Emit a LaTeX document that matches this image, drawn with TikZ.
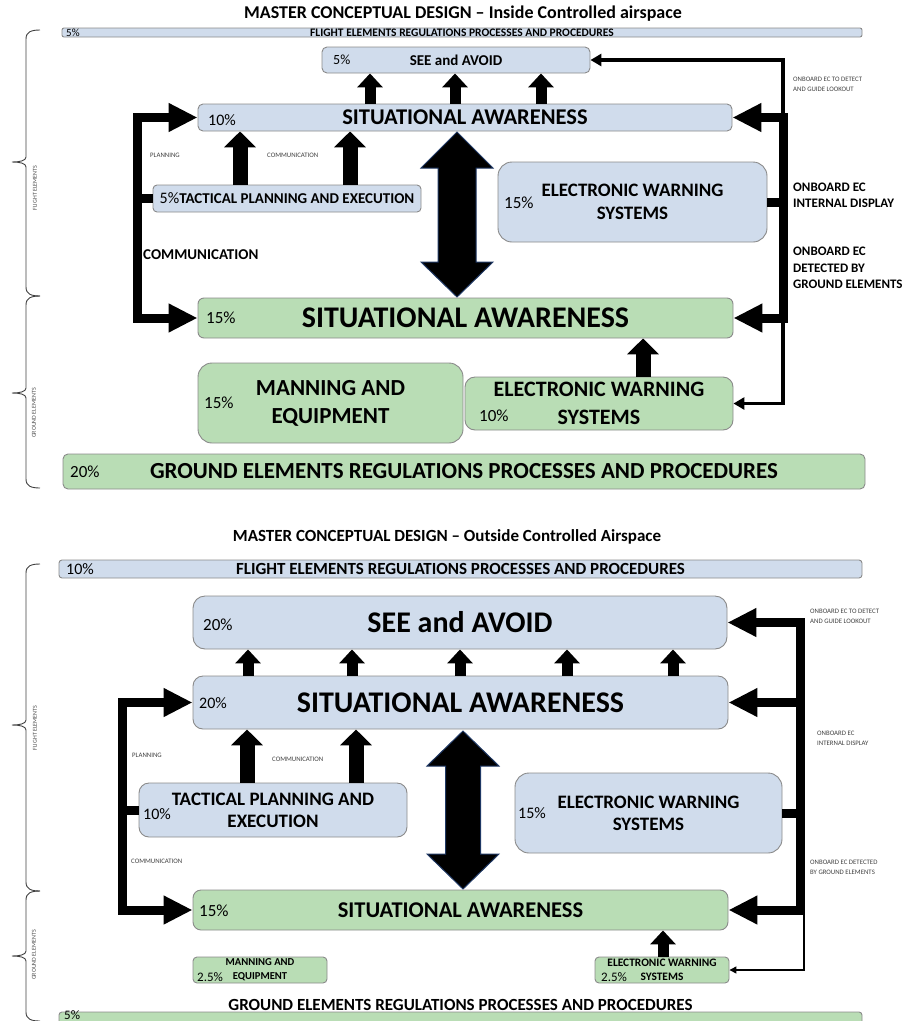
\documentclass[tikz,border=0pt]{standalone}
\usepackage{fontspec}
\setmainfont{Carlito}
\usetikzlibrary{arrows.meta}
\definecolor{fillblue}{HTML}{D0DCEC}
\definecolor{fillgreen}{HTML}{B9DDB5}
\definecolor{edgegray}{HTML}{8A8A8A}
\definecolor{navy}{HTML}{1F3864}
\newcommand{\fsz}[2]{\fontsize{#1pt}{#2pt}\selectfont}
\begin{document}
\begin{tikzpicture}[x=1pt,y=-1pt,
  fb/.style={draw=edgegray,fill=fillblue,line width=0.9pt,inner sep=0pt,align=center,font=\bfseries},
  fg/.style={draw=edgegray,fill=fillgreen,line width=0.9pt,inner sep=0pt,align=center,font=\bfseries},
  pct/.style={anchor=west,inner sep=0pt},
  lbl/.style={anchor=west,inner sep=0pt,align=left},
  tinylbl/.style={anchor=west,inner sep=0pt,align=left,text=black!75,font=\fsz{6.8}{10}},
  fat/.style={line width=9pt,>={Triangle[length=29pt,width=27pt]},->},
  fatboth/.style={line width=9pt,>={Triangle[length=29pt,width=27pt]},<->},
  stub/.style={line width=9pt},
  upsm/.style={line width=11pt,-{Triangle[length=14pt,width=25pt]}},
  upbig/.style={line width=15pt,-{Triangle[length=16pt,width=31pt]}},
  thinarr/.style={line width=3.5pt,-{Triangle[length=11pt,width=12pt]}},
  hair/.style={line width=1.3pt,-{Triangle[length=7pt,width=7pt]}},
  dbl/.style={fill=black,draw=navy,line width=1pt},
  brc/.style={draw=black!75,line width=0.9pt},
  brclbl/.style={rotate=90,inner sep=0pt,text=black!70,font=\fsz{6}{7}}
]
\useasboundingbox (0,0) rectangle (917,1021);

\node[font=\bfseries\fsz{18}{20}] (tt1) at (463,14) {MASTER CONCEPTUAL DESIGN – Inside Controlled airspace};
\node[fb,rounded corners=2pt,minimum width=800pt,minimum height=9pt] (fe1) at (462,32.5) {};
\node[font=\bfseries\fsz{11.5}{12}] (fe1t) at (fe1.center) {FLIGHT ELEMENTS REGULATIONS PROCESSES AND PROCEDURES};
\node[pct,font=\fsz{11}{12}] (fe1p) at (66,32.5) {5\%};
\node[fb,rounded corners=5pt,minimum width=268pt,minimum height=26pt,font=\bfseries\fsz{15}{18}] (see1) at (456,60) {SEE and AVOID};
\node[pct,font=\fsz{14}{16}] (see1p) at (333,60) {5\%};
\node[fb,rounded corners=5pt,minimum width=534pt,minimum height=27pt,font=\bfseries\fsz{22.5}{26}] (sab1) at (465,117.5) {SITUATIONAL AWARENESS};
\node[pct,font=\fsz{16}{18}] (sab1p) at (208,120) {10\%};
\node[fb,rounded corners=4pt,minimum width=268pt,minimum height=27pt,font=\bfseries\fsz{15}{18}] (tac1) at (287,198.5) {{\mdseries\fsz{16}{18}5\%}TACTICAL PLANNING AND EXECUTION};
\node[fb,rounded corners=14pt,minimum width=269pt,minimum height=80pt,font=\bfseries\fsz{19}{23}] (ewsb1) at (632.5,202) {ELECTRONIC WARNING\\SYSTEMS};
\node[pct,font=\fsz{17}{18}] (ewsb1p) at (504,203) {15\%};
\node[fg,rounded corners=6pt,minimum width=535pt,minimum height=40pt,font=\bfseries\fsz{30}{34}] (sag1) at (465.5,318) {SITUATIONAL AWARENESS};
\node[pct,font=\fsz{17}{18}] (sag1p) at (206,318) {15\%};
\node[fg,rounded corners=14pt,minimum width=265pt,minimum height=80pt,font=\bfseries\fsz{23}{28}] (man1) at (330.5,403) {MANNING AND\\EQUIPMENT};
\node[pct,font=\fsz{17}{18}] (man1p) at (204,403) {15\%};
\node[fg,rounded corners=10pt,minimum width=268pt,minimum height=53pt,font=\bfseries\fsz{22}{28}] (ewsg1) at (599,403.5) {ELECTRONIC WARNING\\SYSTEMS};
\node[pct,font=\fsz{17}{18}] (ewsg1p) at (479,416) {10\%};
\node[fg,rounded corners=5pt,minimum width=802pt,minimum height=35pt,font=\bfseries\fsz{23}{26}] (ge1) at (464,471.5) {GROUND ELEMENTS REGULATIONS PROCESSES AND PROCEDURES};
\node[pct,font=\fsz{17}{18}] (ge1p) at (70,472) {20\%};

\coordinate (lb1) at (137,318);
\draw[fatboth] (sab1.west) -| (lb1) -- (sag1.west);
\draw[stub] (tac1.west) -- (tac1.west -| lb1);
\coordinate (rb1) at (783,117.5);
\coordinate (rb1b) at (783,318);
\draw[thinarr] (rb1) |- (see1.east);
\draw[fatboth] (sab1.east) -| (rb1b) -- (sag1.east);
\draw[stub] (ewsb1.east) -- (ewsb1.east -| rb1b);
\draw[thinarr] (rb1b) |- (ewsg1.east);
\foreach \ux [count=\i] in {370,455,541}{
  \coordinate (ua\i) at (\ux,0);
  \draw[upsm] (sab1.north -| ua\i) -- (see1.south -| ua\i);
}
\foreach \ux [count=\i] in {240,350}{
  \coordinate (ub\i) at (\ux,0);
  \draw[upbig] (tac1.north -| ub\i) -- (sab1.south -| ub\i);
}
\coordinate (uc1) at (643,0);
\draw[upbig] (ewsg1.north -| uc1) -- (sag1.south -| uc1);
\coordinate (dt1) at (457,132);
\coordinate (db1) at (457,297);
\draw[dbl] (dt1) -- ++(36,36) -- ++(-17,0) -- ++(0,94) -- ++(17,0) -- (db1) -- ++(-36,-35) -- ++(17,0) -- ++(0,-94) -- ++(-17,0) -- cycle;

\node[tinylbl] (pl1) at (150,155) {PLANNING};
\node[tinylbl] (cm1) at (267,155) {COMMUNICATION};
\node[lbl,font=\bfseries\fsz{15}{18}] (cm1b) at (143,255) {COMMUNICATION};
\node[tinylbl] (ob1) at (793,84) {ONBOARD EC TO DETECT\\AND GUIDE LOOKOUT};
\node[lbl,font=\bfseries\fsz{13}{16}] (ob2) at (793,195) {ONBOARD EC\\INTERNAL DISPLAY};
\node[lbl,font=\bfseries\fsz{13}{16.5}] (ob3) at (793,268) {ONBOARD EC\\DETECTED BY\\GROUND ELEMENTS};

\node[font=\bfseries\fsz{17}{20}] (tt2) at (447,537) {MASTER CONCEPTUAL DESIGN – Outside Controlled Airspace};
\node[fb,rounded corners=3pt,minimum width=803pt,minimum height=18pt] (fe2) at (460.5,569) {};
\node[font=\bfseries\fsz{17}{18}] (fe2t) at (fe2.center) {FLIGHT ELEMENTS REGULATIONS PROCESSES AND PROCEDURES};
\node[pct,font=\fsz{16}{18}] (fe2p) at (66,569) {10\%};
\node[fb,rounded corners=12pt,minimum width=534pt,minimum height=53pt,font=\bfseries\fsz{30}{34}] (see2) at (460,622.5) {SEE and AVOID};
\node[pct,font=\fsz{17}{18}] (see2p) at (203,625) {20\%};
\node[fb,rounded corners=10pt,minimum width=535pt,minimum height=53pt,font=\bfseries\fsz{30}{34}] (sab2) at (460.5,702.5) {SITUATIONAL AWARENESS};
\node[pct,font=\fsz{16}{18}] (sab2p) at (199,703) {20\%};
\node[fb,rounded corners=10pt,minimum width=268pt,minimum height=54pt,font=\bfseries\fsz{19}{22}] (tac2) at (273,810) {TACTICAL PLANNING AND\\EXECUTION};
\node[pct,font=\fsz{16}{18}] (tac2p) at (143,814) {10\%};
\node[fb,rounded corners=14pt,minimum width=267pt,minimum height=80pt,font=\bfseries\fsz{19}{22}] (ewsb2) at (648.5,813) {ELECTRONIC WARNING\\SYSTEMS};
\node[pct,font=\fsz{16}{18}] (ewsb2p) at (518,813) {15\%};
\node[fg,rounded corners=8pt,minimum width=535pt,minimum height=40pt,font=\bfseries\fsz{22.5}{26}] (sag2) at (460.5,910) {SITUATIONAL AWARENESS};
\node[pct,font=\fsz{17}{18}] (sag2p) at (199,911) {15\%};
\node[fg,rounded corners=4pt,minimum width=134pt,minimum height=26pt,font=\bfseries\fsz{10.6}{14}] (man2) at (260,970) {MANNING AND\\EQUIPMENT};
\node[pct,font=\fsz{13}{14}] (man2p) at (197,977) {2.5\%};
\node[fg,rounded corners=4pt,minimum width=134pt,minimum height=26pt,font=\bfseries\fsz{11.4}{14}] (ewsg2) at (662,970) {ELECTRONIC WARNING\\SYSTEMS};
\node[pct,font=\fsz{13}{14}] (ewsg2p) at (601,977) {2.5\%};
\node[fg,rounded corners=3pt,minimum width=803pt,minimum height=22pt] (ge2) at (460.5,1023) {};
\node[font=\bfseries\fsz{17}{20}] (ge2t) at (460.5,1005) {GROUND ELEMENTS REGULATIONS PROCESSES AND PROCEDURES};
\node[pct,font=\fsz{13}{14}] (ge2p) at (64,1015) {5\%};

\coordinate (lb2) at (122,910);
\draw[fatboth] (sab2.west) -| (lb2) -- (sag2.west);
\draw[stub] (tac2.west) -- (tac2.west -| lb2);
\coordinate (rb2) at (800,910);
\draw[fatboth] (see2.east) -| (rb2) -- (sag2.east);
\draw[fat] (sab2.east -| rb2) -- (sab2.east);
\draw[stub] (ewsb2.east) -- (ewsb2.east -| rb2);
\coordinate (rb2t) at (804,910);
\draw[hair] (rb2t) |- (ewsg2.east);
\foreach \ux [count=\i] in {248,352,460,567,673}{
  \coordinate (ud\i) at (\ux,0);
  \draw[upsm] (sab2.north -| ud\i) -- (see2.south -| ud\i);
}
\foreach \ux [count=\i] in {247,356}{
  \coordinate (ue\i) at (\ux,0);
  \draw[upbig] (tac2.north -| ue\i) -- (sab2.south -| ue\i);
}
\coordinate (uf1) at (663,0);
\draw[upsm] (ewsg2.north -| uf1) -- (sag2.south -| uf1);
\coordinate (dt2) at (463,731);
\coordinate (db2) at (463,889);
\draw[dbl] (dt2) -- ++(36,35) -- ++(-18.5,0) -- ++(0,88) -- ++(18.5,0) -- (db2) -- ++(-36,-35) -- ++(18.5,0) -- ++(0,-88) -- ++(-18.5,0) -- cycle;

\node[tinylbl] (pl2) at (132,755) {PLANNING};
\node[tinylbl] (cm2) at (272,759) {COMMUNICATION};
\node[tinylbl] (cm2b) at (131,861) {COMMUNICATION};
\node[tinylbl] (ob4) at (810,616) {ONBOARD EC TO DETECT\\AND GUIDE LOOKOUT};
\node[tinylbl] (ob5) at (817,738) {ONBOARD EC\\INTERNAL DISPLAY};
\node[tinylbl] (ob6) at (810,867) {ONBOARD EC DETECTED\\BY GROUND ELEMENTS};

\foreach \ya/\ym/\yb in {30/162/296,296/393/488,564/725/891,891/956/1021}
  \draw[brc] (40,\ya) .. controls (31,\ya) and (26,\ya+2) .. (26,\ya+9) -- (26,\ym-5)
    .. controls (26,\ym-1) and (19,\ym) .. (12,\ym) .. controls (19,\ym) and (26,\ym+1) .. (26,\ym+5)
    -- (26,\yb-9) .. controls (26,\yb-2) and (31,\yb) .. (40,\yb);
\node[brclbl] (fl1) at (35,188) {FLIGHT ELEMENTS};
\node[brclbl] (gr1) at (34,413) {GROUND ELEMENTS};
\node[brclbl] (fl2) at (35,728) {FLIGHT ELEMENTS};
\node[brclbl] (gr2) at (34,955) {GROUND ELEMENTS};
\end{tikzpicture}
\end{document}
